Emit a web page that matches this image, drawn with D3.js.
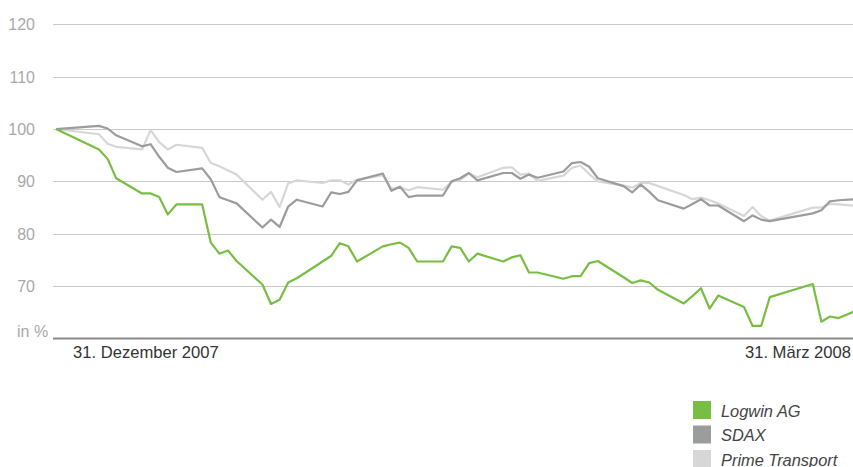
<!DOCTYPE html>
<html><head><meta charset="utf-8">
<script src="https://cdn.jsdelivr.net/npm/d3@7"></script>
<style>
html,body{margin:0;padding:0;background:#fff;}
svg{display:block;font-family:"Liberation Sans","DejaVu Sans",sans-serif;}
</style></head>
<body><svg id="c" width="853" height="467"></svg>
<script>
const dates = ["2007-12-28","2008-01-02","2008-01-03","2008-01-04",
"2008-01-07","2008-01-08","2008-01-09","2008-01-10","2008-01-11",
"2008-01-14","2008-01-15","2008-01-16","2008-01-17","2008-01-18",
"2008-01-21","2008-01-22","2008-01-23","2008-01-24","2008-01-25",
"2008-01-28","2008-01-29","2008-01-30","2008-01-31","2008-02-01",
"2008-02-04","2008-02-05","2008-02-06","2008-02-07","2008-02-08",
"2008-02-11","2008-02-12","2008-02-13","2008-02-14","2008-02-15",
"2008-02-18","2008-02-19","2008-02-20","2008-02-21","2008-02-22",
"2008-02-25","2008-02-26","2008-02-27","2008-02-28","2008-02-29",
"2008-03-03","2008-03-04","2008-03-05","2008-03-06","2008-03-07",
"2008-03-10","2008-03-11","2008-03-12","2008-03-13","2008-03-14",
"2008-03-17","2008-03-18","2008-03-19","2008-03-20",
"2008-03-25","2008-03-26","2008-03-27","2008-03-28",
"2008-03-31"];

const logwin = [100, 96.1, 94.3, 90.6,
 87.7, 87.7, 87.0, 83.7, 85.6,
 85.6, 78.3, 76.2, 76.8, 74.8,
 70.3, 66.6, 67.4, 70.7, 71.5,
 74.7, 75.8, 78.2, 77.6, 74.7,
 77.6, 78.0, 78.3, 77.3, 74.7,
 74.7, 77.6, 77.3, 74.7, 76.2,
 74.7, 75.5, 75.9, 72.6, 72.6,
 71.4, 71.9, 71.9, 74.4, 74.8,
 71.7, 70.6, 71.1, 70.7, 69.3,
 66.7, 68.1, 69.6, 65.7, 68.2,
 66.0, 62.4, 62.4, 67.9,
 70.4, 63.2, 64.2, 63.9,
 66.0];

const sdax = [100, 100.6, 100.1, 98.8,
 96.7, 97.1, 94.7, 92.6, 91.8,
 92.5, 90.4, 87.0, 86.4, 85.8,
 81.2, 82.7, 81.3, 85.2, 86.5,
 85.2, 87.9, 87.6, 88.0, 90.2,
 91.5, 88.2, 89.0, 87.0, 87.3,
 87.3, 90.0, 90.6, 91.6, 90.2,
 91.6, 91.6, 90.5, 91.3, 90.7,
 91.9, 93.5, 93.7, 92.8, 90.6,
 89.1, 87.9, 89.4, 88.0, 86.4,
 84.8, 85.7, 86.6, 85.4, 85.4,
 82.4, 83.5, 82.7, 82.4,
 83.9, 84.5, 86.2, 86.4,
 86.7];

const primeTransport = [100, 99.0, 97.2, 96.6,
 96.1, 99.8, 97.5, 96.1, 97.0,
 96.4, 93.5, 92.9, 92.1, 91.3,
 86.5, 88.0, 85.1, 89.6, 90.2,
 89.7, 90.2, 90.2, 89.4, 90.3,
 91.2, 88.6, 88.9, 88.3, 88.9,
 88.4, 89.9, 90.3, 91.5, 90.8,
 92.6, 92.7, 91.3, 91.5, 90.1,
 91.1, 92.6, 93.0, 91.4, 90.0,
 89.2, 88.8, 89.7, 89.7, 89.1,
 87.4, 86.6, 86.9, 86.4, 85.8,
 83.4, 85.1, 83.4, 82.5,
 85.0, 85.0, 85.7, 85.6,
 85.2];

const yTicks = [70, 80, 90, 100, 110, 120];
const unitLabel = "in %";
const xLabels = ["31. Dezember 2007", "31. März 2008"];
const seriesNames = ["Logwin AG", "SDAX", "Prime Transport"];
const seriesColors = ["#78be43", "#9a9c9d", "#d7d7d7"];

const parse = d3.utcParse("%Y-%m-%d");
const dts = dates.map(parse);
const svg = d3.select("#c");

const x = d3.scaleUtc().domain([parse("2007-12-28"), parse("2008-03-31")]).range([56, 864.4]);
const y = d3.scaleLinear().domain([60, 120]).range([338.5, 24.3]);

// gridlines
svg.append("g").selectAll("line").data(yTicks).join("line")
  .attr("x1", 53).attr("x2", 853)
  .attr("y1", d => Math.round(y(d)) + 0.5).attr("y2", d => Math.round(y(d)) + 0.5)
  .attr("stroke", "#c9c9c9").attr("stroke-width", 1);

// tick labels
svg.append("g").selectAll("text").data(yTicks).join("text")
  .attr("x", 35).attr("y", d => y(d) + 6)
  .attr("text-anchor", "end")
  .attr("font-size", 16).attr("fill", "#a9a9a9")
  .text(d => d);

svg.append("text").attr("x", 17).attr("y", 337)
  .attr("font-size", 16).attr("fill", "#a9a9a9").text(unitLabel);

// clip
svg.append("clipPath").attr("id", "clip").append("rect")
  .attr("x", 50).attr("y", 0).attr("width", 803).attr("height", 340);

const line = d3.line().x((d, i) => x(dts[i])).y(d => y(d));
const lines = svg.append("g").attr("clip-path", "url(#clip)");
[[primeTransport, 2], [sdax, 1], [logwin, 0]].forEach(([vals, ci]) => {
  lines.append("path").datum(vals)
    .attr("d", line).attr("fill", "none")
    .attr("stroke", seriesColors[ci]).attr("stroke-width", 2.2)
    .attr("stroke-linejoin", "round");
});

// baseline axis
svg.append("line").attr("x1", 53).attr("x2", 853)
  .attr("y1", y(60)).attr("y2", y(60))
  .attr("stroke", "#8a8a8a").attr("stroke-width", 2);

svg.append("text").attr("x", 73).attr("y", 358)
  .attr("font-size", 16.6).attr("fill", "#333").text(xLabels[0]);
svg.append("text").attr("x", 851).attr("y", 358).attr("text-anchor", "end")
  .attr("font-size", 16.6).attr("fill", "#333").text(xLabels[1]);

// legend
const lg = svg.append("g").selectAll("g").data(seriesNames).join("g")
  .attr("transform", (d, i) => `translate(693,${401 + i * 24.5})`);
lg.append("rect").attr("width", 18).attr("height", 18)
  .attr("fill", (d, i) => seriesColors[i]);
lg.append("text").attr("x", 28).attr("y", 15.5)
  .attr("font-size", 16.4).attr("font-style", "italic").attr("fill", "#444")
  .text(d => d);
</script></body></html>
